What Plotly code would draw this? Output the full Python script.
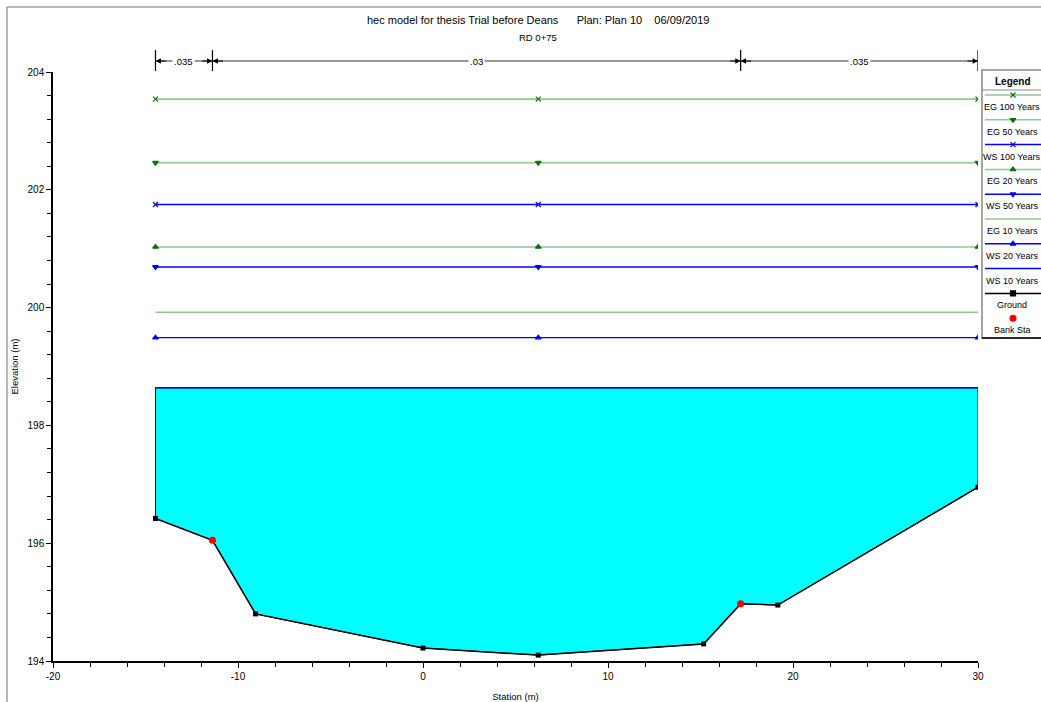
import plotly.graph_objects as go

W, H = 1041, 702

# ---------------- data ----------------
ground_sta = [-14.46, -11.38, -9.05, 0.0, 6.23, 15.17, 17.17, 19.18, 30.0]
ground_elev = [196.42, 196.05, 194.80, 194.22, 194.10, 194.29, 194.97, 194.95, 196.95]
bank_sta = [-11.38, 17.17]
bank_elev = [196.05, 194.97]

profiles = ["EG 100 Years", "EG 50 Years", "WS 100 Years", "EG 20 Years",
            "WS 50 Years", "EG 10 Years", "WS 20 Years", "WS 10 Years"]
profile_elev = [203.54, 202.46, 201.75, 201.03, 200.69, 199.92, 199.49, 198.64]
profile_marker = ["x-thin", "triangle-down", "x-thin", "triangle-up",
                  "triangle-down", None, "triangle-up", None]
marker_sta = [-14.46, 6.23, 30.0]

n_values = [".035", ".03", ".035"]
n_breaks = [-14.46, -11.38, 17.17, 30.0]

x_tickvals = [-20, -10, 0, 10, 20, 30]
x_ticktext = ["-20", "-10", "0", "10", "20", "30"]
y_tickvals = [194, 196, 198, 200, 202, 204]

title_text = "hec model for thesis Trial before Deans      Plan: Plan 10    06/09/2019"
subtitle_text = "RD 0+75"

FONT = "Liberation Sans Narrow, Arial Narrow, Liberation Sans, Arial"
GREEN = "rgba(30,150,30,0.5)"
GREEN_M = "#107010"
BLUE = "#0000ff"


def px(x):
    return x / W


def py(y):
    return 1 - y / H


def note(x, y, text, size, xref="paper", yref="paper", **kw):
    fig.add_annotation(x=x, y=y, xref=xref, yref=yref, text=text, showarrow=False,
                       xanchor="center", yanchor="middle",
                       font=dict(family=FONT, size=size, color="black"), **kw)


fig = go.Figure()

# water fill for WS 10 Years
ws10 = profile_elev[profiles.index("WS 10 Years")]
poly_x = ground_sta + [ground_sta[-1], ground_sta[0], ground_sta[0]]
poly_y = ground_elev + [ws10, ws10, ground_elev[0]]
fig.add_trace(go.Scatter(x=poly_x, y=poly_y, mode="lines", fill="toself",
                         fillcolor="#00ffff", line=dict(color="#000033", width=1),
                         hoverinfo="skip", showlegend=False))

# profile lines
for name, elev, sym in zip(profiles, profile_elev, profile_marker):
    is_eg = name.startswith("EG")
    col = GREEN if is_eg else BLUE
    mcol = GREEN_M if is_eg else BLUE
    x0, x1 = ground_sta[0], ground_sta[-1]
    fig.add_trace(go.Scatter(x=[x0, x1], y=[elev, elev], mode="lines",
                             line=dict(color=col, width=1.6 if is_eg else 1.4),
                             showlegend=False, name=name))
    if sym:
        fig.add_trace(go.Scatter(x=marker_sta, y=[elev] * len(marker_sta), mode="markers",
                                 marker=dict(symbol=sym, size=5, color=mcol,
                                             line=dict(color=mcol, width=1.2)),
                                 showlegend=False, name=name))

# ground
fig.add_trace(go.Scatter(x=ground_sta, y=ground_elev, mode="lines+markers",
                         line=dict(color="black", width=1.5),
                         marker=dict(symbol="square", size=5, color="black"),
                         showlegend=False, name="Ground"))
fig.add_trace(go.Scatter(x=bank_sta, y=bank_elev, mode="markers",
                         marker=dict(symbol="circle", size=7, color="red"),
                         showlegend=False, name="Bank Sta"))

# ---------------- legend (custom, pixel axes) ----------------
leg_items = profiles + ["Ground", "Bank Sta"]
leg_top, leg_head, leg_bot = 70, 90, 338
step = (leg_bot - leg_head) / len(leg_items)
LEG_CX = 1012
for i, name in enumerate(leg_items):
    yl = leg_head + step * i + 5
    yt = yl + 12
    if name == "Bank Sta":
        fig.add_trace(go.Scatter(x=[LEG_CX + 1], y=[yl], mode="markers", xaxis="x2", yaxis="y2",
                                 marker=dict(symbol="circle", size=7, color="red"),
                                 showlegend=False, hoverinfo="skip"))
    else:
        if name == "Ground":
            col, mcol, sym = "black", "black", "square"
        else:
            j = profiles.index(name)
            is_eg = name.startswith("EG")
            col = GREEN if is_eg else BLUE
            mcol = GREEN_M if is_eg else BLUE
            sym = profile_marker[j]
        fig.add_trace(go.Scatter(x=[985, 1041], y=[yl, yl], mode="lines", xaxis="x2", yaxis="y2",
                                 line=dict(color=col, width=1.5), showlegend=False, hoverinfo="skip"))
        if sym:
            fig.add_trace(go.Scatter(x=[LEG_CX + 1], y=[yl], mode="markers", xaxis="x2", yaxis="y2",
                                     marker=dict(symbol=sym, size=5, color=mcol,
                                                 line=dict(color=mcol, width=1.2)),
                                     showlegend=False, hoverinfo="skip"))
    note(LEG_CX, yt, name, 9, xref="x2", yref="y2")

note(LEG_CX + 1, (leg_top + leg_head) / 2 + 1, "<b>Legend</b>", 10, xref="x2", yref="y2")

shapes = []
# legend box
shapes.append(dict(type="rect", xref="paper", yref="paper", x0=px(982), x1=px(1045),
                   y0=py(leg_bot), y1=py(leg_top), line=dict(color="#888888", width=1.5)))
shapes.append(dict(type="line", xref="paper", yref="paper", x0=px(982), x1=px(1041),
                   y0=py(leg_bot), y1=py(leg_bot), line=dict(color="black", width=1.5)))
shapes.append(dict(type="line", xref="paper", yref="paper", x0=px(982), x1=px(1041),
                   y0=py(leg_head), y1=py(leg_head), line=dict(color="#888888", width=1)))
# outer frame (left & top)
shapes.append(dict(type="line", xref="paper", yref="paper", x0=px(7), x1=px(7),
                   y0=0, y1=py(7), line=dict(color="#888888", width=1.2)))
shapes.append(dict(type="line", xref="paper", yref="paper", x0=px(7), x1=1,
                   y0=py(7), y1=py(7), line=dict(color="#777777", width=1.2)))

# Manning's n bar at top
ybar = py(61)
for xb in n_breaks:
    shapes.append(dict(type="line", xref="x", yref="paper", x0=xb, x1=xb,
                       y0=py(71), y1=py(50), line=dict(color="black", width=1.2)))
for i, lab in enumerate(n_values):
    a, b = n_breaks[i], n_breaks[i + 1]
    shapes.append(dict(type="line", xref="x", yref="paper", x0=a, x1=b,
                       y0=ybar, y1=ybar, line=dict(color="#333333", width=1.2)))
    note((a + b) / 2, ybar, lab, 9.5, xref="x", yref="paper", bgcolor="white", borderpad=1)
    for tip, off in ((a, 12), (b, -12)):
        fig.add_annotation(x=tip, y=ybar, xref="x", yref="paper", ax=off, ay=0,
                           axref="pixel", ayref="pixel", showarrow=True, text="",
                           arrowhead=2, arrowsize=0.9, arrowwidth=1.2, arrowcolor="black")

# titles
note(px(538), py(20), title_text, 11)
note(px(538), py(38), subtitle_text, 9.5)

fig.update_layout(
    width=W, height=H,
    margin=dict(l=0, r=0, t=0, b=0, autoexpand=False),
    paper_bgcolor="white", plot_bgcolor="white",
    shapes=shapes,
    font=dict(family=FONT, size=10, color="black"),
    xaxis=dict(domain=[px(53), px(978)], range=[-20, 30], automargin=False,
               tickmode="array", tickvals=x_tickvals, ticktext=x_ticktext,
               showgrid=False, zeroline=False, showline=True, linecolor="black", linewidth=1.5,
               ticks="outside", ticklen=5, tickcolor="black",
               minor=dict(dtick=2, tick0=0, ticks="outside", ticklen=4, tickcolor="black", showgrid=False),
               tickfont=dict(family=FONT, size=10),
               title=dict(text="Station (m)", font=dict(family=FONT, size=9.5), standoff=14),
               anchor="y"),
    yaxis=dict(domain=[py(661), py(72)], range=[194, 204], automargin=False,
               tickmode="array", tickvals=y_tickvals,
               showgrid=False, zeroline=False, showline=True, linecolor="black", linewidth=1.5,
               ticks="outside", ticklen=5, tickcolor="black",
               minor=dict(dtick=0.4, tick0=194, ticks="outside", ticklen=4, tickcolor="black", showgrid=False),
               tickfont=dict(family=FONT, size=10),
               title=dict(text="Elevation (m)", font=dict(family=FONT, size=9.5), standoff=7),
               anchor="x"),
    xaxis2=dict(domain=[px(982), 1], range=[982, 1041], visible=False, fixedrange=True,
                automargin=False, anchor="y2"),
    yaxis2=dict(domain=[py(leg_bot), py(leg_top)], range=[leg_bot, leg_top], visible=False,
                fixedrange=True, automargin=False, anchor="x2"),
)

fig.write_html("out.html", config={"displayModeBar": False},
               post_script="document.body.style.margin='0';document.body.style.overflow='hidden';")
